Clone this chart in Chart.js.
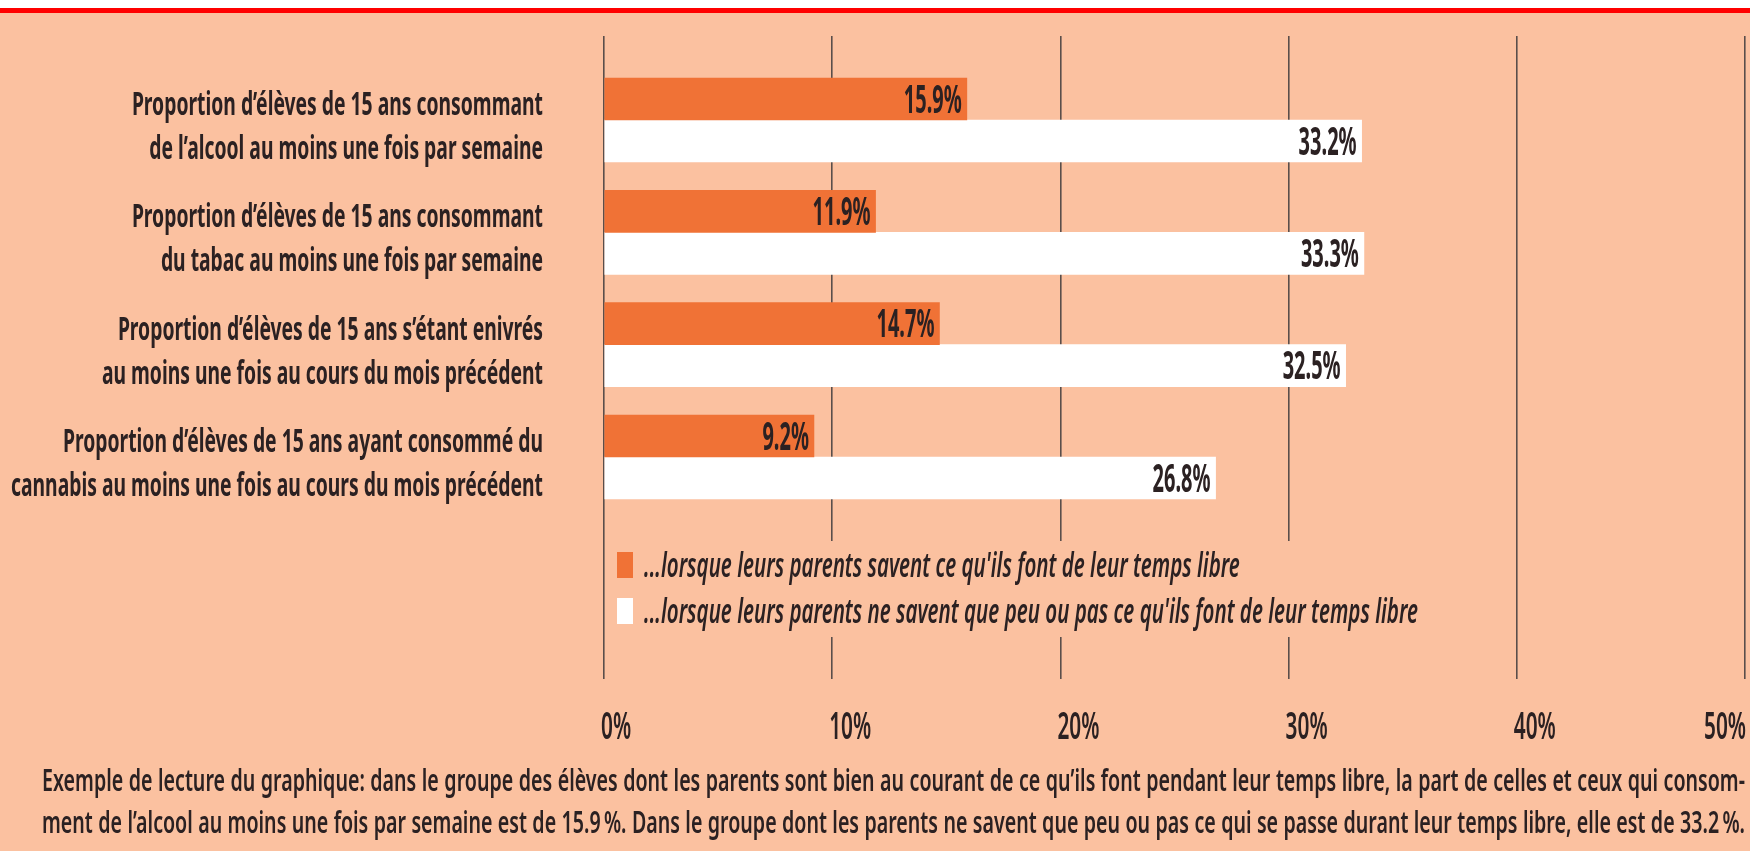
<!DOCTYPE html>
<html lang="fr">
<head>
<meta charset="utf-8">
<title>Consommation des élèves de 15 ans</title>
<script src="https://cdn.jsdelivr.net/npm/chart.js@4.4.1/dist/chart.umd.min.js"></script>
<style>
  html, body { margin: 0; padding: 0; }
  body { width: 1750px; height: 851px; background: #fbc1a0; position: relative; overflow: hidden; }
  .top-rule { position: absolute; left: 0; top: 0; width: 100%; height: 8px; background: #fff; border-bottom: 5px solid #ff0000; }
  #chart { position: absolute; left: 0; top: 0; }
  #note { position: absolute; left: 42px; top: 759px; color: #2b2122; line-height: 41.5px; transform-origin: 0 0;
          text-align: justify; text-align-last: justify; white-space: pre-line; }
</style>
</head>
<body>
<div class="top-rule"></div>
<canvas id="chart" width="1750" height="851"></canvas>
<div id="note"></div>

<script>
// data
const categories = [
    ['Proportion d’élèves de 15 ans consommant', 'de l’alcool au moins une fois par semaine'],
    ['Proportion d’élèves de 15 ans consommant', 'du tabac au moins une fois par semaine'],
    ['Proportion d’élèves de 15 ans s’étant enivrés', 'au moins une fois au cours du mois précédent'],
    ['Proportion d’élèves de 15 ans ayant consommé du', 'cannabis au moins une fois au cours du mois précédent']
];
const parentsKnow = [15.9, 11.9, 14.7, 9.2];
const parentsDontKnow = [33.2, 33.3, 32.5, 26.8];
const xTicks = [0, 10, 20, 30, 40, 50];
const seriesLabels = [
    "...lorsque leurs parents savent ce qu'ils font de leur temps libre",
    "...lorsque leurs parents ne savent que peu ou pas ce qu'ils font de leur temps libre"
];
const noteLines = [
    'Exemple de lecture du graphique: dans le groupe des élèves dont les parents sont bien au courant de ce qu’ils font pendant leur temps libre, la part de celles et ceux qui consom-',
    'ment de l’alcool au moins une fois par semaine est de 15.9\u202f%. Dans le groupe dont les parents ne savent que peu ou pas ce qui se passe durant leur temps libre, elle est de 33.2\u202f%.'
];

const BG = '#fbc1a0';
const ORANGE = '#f07236';
const TEXT = '#2b2122';
const GRID = '#5a4e4a';
const FAMILY = "'Noto Sans', sans-serif";

const LABEL_FONT = `bold 32px ${FAMILY}`;
const VALUE_FONT = `bold 39px ${FAMILY}`;
const TICK_FONT = `600 37px ${FAMILY}`;
const LEGEND_FONT = `italic 600 35px ${FAMILY}`;
const NOTE_FONT = `600 31px ${FAMILY}`;

// the original is set in a very narrow font: no such font here,
// so the text is squeezed horizontally to the widths measured on the picture
const probe = document.createElement('canvas').getContext('2d');
function squeezeFor(text, width, font) {
    probe.font = font;
    return width / probe.measureText(text).width;
}
const labelSqueeze = squeezeFor(categories[3][1], 532, LABEL_FONT);
const valueSqueeze = squeezeFor('33.2%', 58, VALUE_FONT);
const tickSqueeze = squeezeFor('40%', 42, TICK_FONT);
const legendSqueeze = squeezeFor(seriesLabels[1], 774, LEGEND_FONT);
const noteSqueeze = squeezeFor(noteLines[0], 1690, NOTE_FONT);

function squeezedText(ctx, text, x, y, sx) {
    ctx.save();
    ctx.translate(x, y);
    ctx.scale(sx, 1);
    ctx.fillText(text, 0, 0);
    ctx.restore();
}

const note = document.getElementById('note');
note.style.font = NOTE_FONT;
note.style.lineHeight = '41.5px';
note.style.width = (1703 / noteSqueeze) + 'px';
note.style.transform = `scaleX(${noteSqueeze})`;
note.textContent = noteLines.join('\n');

// =========================
// CATEGORY LABELS (Y AXIS)
// =========================
const categoryLabels = {
    id: 'categoryLabels',
    afterDraw(chart) {
        const ctx = chart.ctx;
        const scale = chart.scales.y;
        ctx.save();
        ctx.font = LABEL_FONT;
        ctx.fillStyle = TEXT;
        ctx.textAlign = 'right';
        categories.forEach((lines, i) => {
            const mid = scale.getPixelForValue(i);
            lines.forEach((line, j) => {
                squeezedText(ctx, line, scale.right - 61, mid - 5 + j * 44, labelSqueeze);
            });
        });
        ctx.restore();
    }
};

// =========================
// VALUE LABELS INSIDE BARS
// =========================
const valueLabels = {
    id: 'valueLabels',
    afterDatasetsDraw(chart) {
        const ctx = chart.ctx;
        ctx.save();
        ctx.font = VALUE_FONT;
        ctx.fillStyle = TEXT;
        ctx.textAlign = 'right';
        chart.data.datasets.forEach((ds, d) => {
            chart.getDatasetMeta(d).data.forEach((bar, i) => {
                squeezedText(ctx, ds.data[i].x.toFixed(1) + '%', bar.x - 5, bar.y + 13.5, valueSqueeze);
            });
        });
        ctx.restore();
    }
};

// =========================
// LEGEND INSIDE THE PLOT
// =========================
const legendBox = {
    id: 'legendBox',
    afterDatasetsDraw(chart) {
        const ctx = chart.ctx;
        const left = chart.chartArea.left + 13;
        ctx.save();
        // the legend sits on a plain patch that hides the grid lines
        ctx.fillStyle = BG;
        ctx.fillRect(left - 5, 541, 830, 96);
        ctx.font = LEGEND_FONT;
        chart.data.datasets.forEach((ds, i) => {
            const top = 552 + i * 46;
            ctx.fillStyle = ds.backgroundColor;
            ctx.fillRect(left, top, 16, 26);
            ctx.fillStyle = TEXT;
            squeezedText(ctx, ds.label, left + 27, top + 25, legendSqueeze);
        });
        ctx.restore();
    }
};

// =========================
// X AXIS LABELS
// =========================
const xLabels = {
    id: 'xLabels',
    afterDraw(chart) {
        const ctx = chart.ctx;
        const scale = chart.scales.x;
        ctx.save();
        ctx.font = TICK_FONT;
        ctx.fillStyle = TEXT;
        scale.ticks.forEach((t, i) => {
            const last = i === scale.ticks.length - 1;
            ctx.textAlign = last ? 'right' : 'left';
            squeezedText(ctx, t.value + '%', scale.getPixelForValue(t.value) + (last ? 1 : -3), 739, tickSqueeze);
        });
        ctx.restore();
    }
};

new Chart(document.getElementById('chart'), {
    type: 'bar',
    data: {
        datasets: [
            {
                label: seriesLabels[0],
                data: parentsKnow.map((v, i) => ({ x: v, y: i })),
                backgroundColor: ORANGE,
                barThickness: 42
            },
            {
                label: seriesLabels[1],
                data: parentsDontKnow.map((v, i) => ({ x: v, y: i })),
                backgroundColor: '#ffffff',
                barThickness: 42
            }
        ]
    },
    plugins: [valueLabels, legendBox, categoryLabels, xLabels],
    options: {
        indexAxis: 'y',
        responsive: false,
        animation: false,
        layout: { padding: { top: 36, right: 5, bottom: 172, left: 0 } },
        plugins: {
            legend: { display: false },
            tooltip: { enabled: false }
        },
        scales: {
            x: {
                type: 'linear',
                min: 0,
                max: 50,
                afterBuildTicks: s => { s.ticks = xTicks.map(v => ({ value: v })); },
                afterFit: s => { s.height = 0; },
                ticks: { display: false },
                grid: { color: GRID, lineWidth: 1.6, drawTicks: false },
                border: { display: false }
            },
            y: {
                type: 'linear',
                reverse: true,
                offset: false,
                min: -0.748,
                max: 4.976,
                afterFit: s => { s.width = 604; },
                ticks: { display: false },
                grid: { display: false, drawTicks: false },
                border: { display: false }
            }
        }
    }
});
</script>
</body>
</html>
